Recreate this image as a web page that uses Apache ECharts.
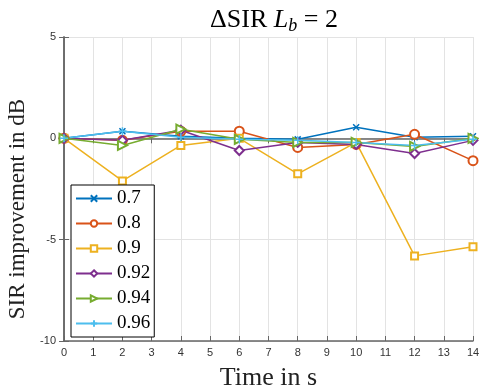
<!DOCTYPE html>
<html><head><meta charset="utf-8">
<script src="https://cdn.jsdelivr.net/npm/echarts@6/dist/echarts.min.js"></script>
<style>html,body{margin:0;padding:0;background:#fff}#c{width:479px;height:388px}</style>
</head><body><div id="c"></div>
<script>
const times = [0, 2, 4, 6, 8, 10, 12, 14];
const xTicks = [0,1,2,3,4,5,6,7,8,9,10,11,12,13,14];
const yTicks = [-10, -5, 0, 5];
const names = ['0.7', '0.8', '0.9', '0.92', '0.94', '0.96'];
const s07  = [0, 0.35, 0.1, 0.0, -0.05, 0.55, 0.05, 0.1];
const s08  = [0, -0.1, 0.35, 0.35, -0.45, -0.3, 0.2, -1.1];
const s09  = [0, -2.1, -0.35, 0.0, -1.75, -0.2, -5.8, -5.35];
const s092 = [0, -0.1, 0.4, -0.6, -0.2, -0.3, -0.75, -0.1];
const s094 = [0, -0.35, 0.45, -0.05, -0.2, -0.2, -0.4, 0.0];
const s096 = [0, 0.35, 0.05, -0.05, -0.1, -0.2, -0.35, -0.05];

const colors = ['#0072BD', '#D95319', '#EDB120', '#7E2F8E', '#77AC30', '#4DBEEE'];
const symbols = [
  'path://M0,0L10,10M10,0L0,10',
  'emptyCircle',
  'emptyRect',
  'emptyDiamond',
  'emptyTriangle',
  'path://M5,0L5,10M0,5L10,5'
];
const sizes = [6, 9, 7, 9, 9, 8];
const rot = [0, 0, 0, 0, -90, 0];
const all = [s07, s08, s09, s092, s094, s096];

const serif = 'Liberation Serif';
const series = all.map((d, i) => ({
  name: names[i],
  type: 'line',
  data: times.map((t, k) => [t, d[k]]),
  symbol: symbols[i],
  symbolSize: sizes[i],
  symbolRotate: rot[i],
  showAllSymbol: true,
  lineStyle: { color: colors[i], width: 1.5 },
  itemStyle: { color: colors[i], borderColor: colors[i], borderWidth: 1.5 },
  emphasis: { disabled: true },
  animation: false
}));

const axisCol = '#666';
const chart = echarts.init(document.getElementById('c'));
chart.setOption({
  animation: false,
  color: colors,
  title: {
    text: '{n|ΔSIR }{i|L}{s|b}{n| = 2}',
    left: 269, top: 0, textAlign: 'center',
    textStyle: {
      fontWeight: 'normal',
      rich: {
        n: { fontFamily: serif, fontSize: 26, fontWeight: 'normal', color: '#000' },
        i: { fontFamily: serif, fontSize: 26, fontStyle: 'italic', fontWeight: 'normal', color: '#000' },
        s: { fontFamily: serif, fontSize: 18, fontStyle: 'italic', fontWeight: 'normal', color: '#000', padding: [12, 0, 0, 0] }
      }
    }
  },
  grid: { left: 64, right: 6, top: 37, bottom: 47, containLabel: false, outerBoundsMode: 'none' },
  legend: {
    orient: 'vertical', left: 71, top: 185,
    backgroundColor: '#fff', borderColor: '#000', borderWidth: 1,
    padding: [4, 4, 4, 4],
    itemGap: 6, itemWidth: 36, itemHeight: 8,
    textStyle: { fontFamily: serif, fontSize: 19, color: '#000', lineHeight: 19 },
    data: names
  },
  xAxis: [{
    type: 'value', min: 0, max: 14, interval: 1,
    name: 'Time in s', nameLocation: 'middle', nameGap: 24,
    nameTextStyle: { fontFamily: serif, fontSize: 26, color: '#222' },
    axisLine: { onZero: false, lineStyle: { color: axisCol, width: 1.5 } },
    axisTick: { inside: true, length: 5, lineStyle: { color: axisCol } },
    axisLabel: { fontFamily: 'Liberation Sans', fontSize: 11, color: '#333', margin: 6 },
    splitLine: { show: true, lineStyle: { color: '#e3e3e3', width: 1 } }
  }, {
    type: 'value', position: 'top', min: 0, max: 14, interval: 1,
    axisLine: { show: true, lineStyle: { color: axisCol, width: 1.5 } },
    axisTick: { inside: true, length: 5, lineStyle: { color: axisCol } },
    axisLabel: { show: false }, splitLine: { show: false }
  }],
  yAxis: [{
    type: 'value', min: -10, max: 5, interval: 5,
    name: 'SIR improvement in dB', nameLocation: 'middle', nameGap: 32,
    nameTextStyle: { fontFamily: serif, fontSize: 23, color: '#222', padding: [0, 40, 0, 0] },
    axisLine: { show: true, onZero: false, lineStyle: { color: axisCol, width: 1.5 } },
    axisTick: { show: true, inside: true, length: 5, lineStyle: { color: axisCol } },
    axisLabel: { fontFamily: 'Liberation Sans', fontSize: 11, color: '#333', margin: 8 },
    splitLine: { show: true, lineStyle: { color: '#e3e3e3', width: 1 } }
  }, {
    type: 'value', position: 'right', min: -10, max: 5, interval: 5,
    axisLine: { show: true, lineStyle: { color: axisCol, width: 1.5 } },
    axisTick: { show: true, inside: true, length: 5, lineStyle: { color: axisCol } },
    axisLabel: { show: false }, splitLine: { show: false }
  }],
  series: series
});
</script></body></html>
